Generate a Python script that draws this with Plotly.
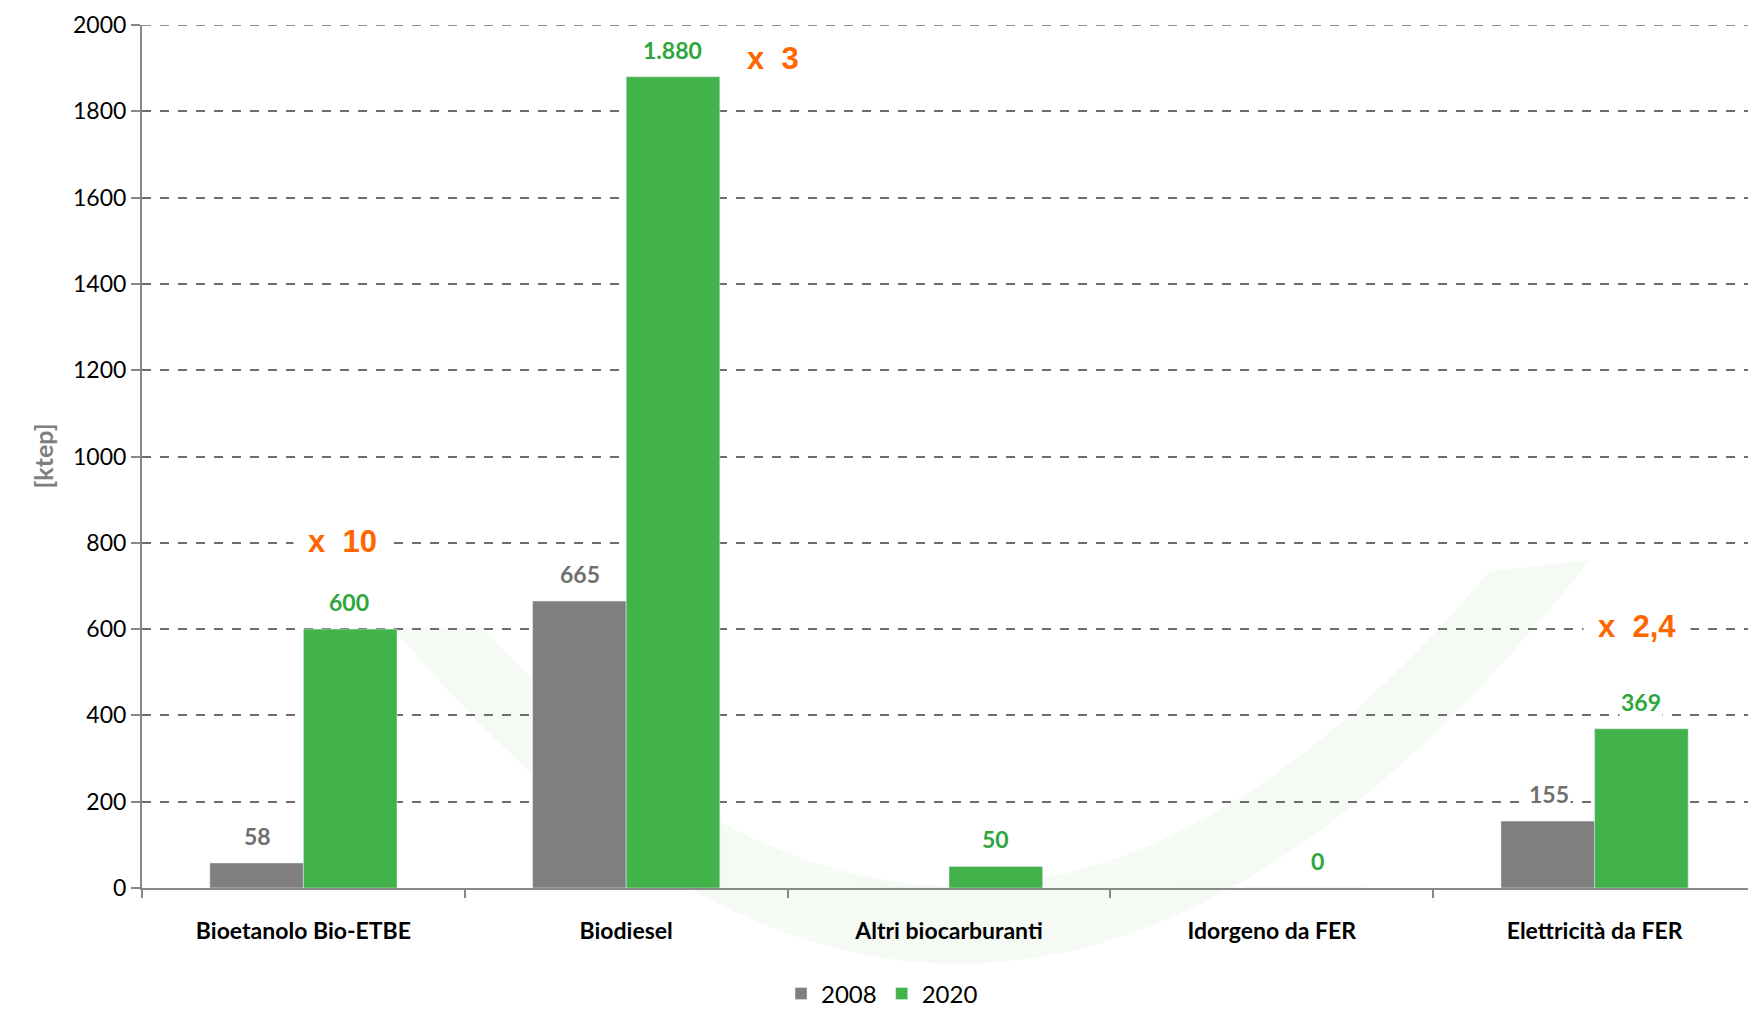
import plotly.graph_objects as go

categories = ["Bioetanolo Bio-ETBE", "Biodiesel", "Altri biocarburanti", "Idorgeno da FER", "Elettricità da FER"]
values_2008 = [58, 665, 0, 0, 155]
values_2020 = [600, 1880, 50, 0, 369]
labels_2008 = ["58", "665", "", "", "155"]
labels_2020 = ["600", "1.880", "50", "0", "369"]
growth_text = ["x  10", "x  3", "x  2,4"]
growth_cat = ["Bioetanolo Bio-ETBE", "Biodiesel", "Elettricità da FER"]
growth_y = [804, 1923, 605]
growth_shift = [39, 147, 42]
growth_pad = [14, 4, 14]

GREY = "#7f7f7f"
GREEN = "#41b34a"
FONT = "Lato, 'Open Sans', sans-serif"

fig = go.Figure()
fig.add_trace(go.Bar(x=categories, y=values_2008, name="2008", marker_color=GREY))
fig.add_trace(go.Bar(x=categories, y=values_2020, name="2020", marker_color=GREEN))

# data labels with white box, offset to each bar of the group
for cat, v, t in zip(categories, values_2008, labels_2008):
    if t:
        fig.add_annotation(x=cat, y=v, text=f"<b>{t}</b>", showarrow=False, xshift=-46, yshift=27,
                           bgcolor="white", font=dict(family=FONT, size=23, color="#6f6f6f"))
for cat, v, t in zip(categories, values_2020, labels_2020):
    fig.add_annotation(x=cat, y=v, text=f"<b>{t}</b>", showarrow=False, xshift=46, yshift=27,
                       bgcolor="white", font=dict(family=FONT, size=23, color="#2ea63b"))

for cat, y, t, s, p in zip(growth_cat, growth_y, growth_text, growth_shift, growth_pad):
    fig.add_annotation(x=cat, y=y, text=f"<b>{t}</b>", showarrow=False, xshift=s,
                       bgcolor="white", borderpad=p,
                       font=dict(family="Liberation Sans, Arial", size=31, color="#ff6600"))

fig.add_annotation(xref="paper", yref="paper", x=(25 - 142) / 1614, y=0.5, text="<b>[ktep]</b>",
                   textangle=-90, showarrow=False, font=dict(family=FONT, size=25, color=GREY))

# faint watermark swoosh behind the bars
fig.add_shape(type="path", xref="paper", yref="paper", layer="below", line_width=0,
              fillcolor="rgba(215,232,208,0.22)",
              path="M 0.155,0.302 Q 0.52,-0.515 0.897,0.38 L 0.835,0.367 Q 0.52,-0.329 0.211,0.302 Z")
# top gridline at 2000 (plotly drops the one on the plot edge)
fig.add_shape(type="line", xref="paper", yref="y", x0=0, x1=1, y0=2000, y1=2000,
              line=dict(color="#6e6e6e", width=1.5, dash="dash"))

# page body has an 8px margin, so the figure is 8px smaller and margins 8px tighter
fig.update_layout(
    width=1748, height=1003,
    margin=dict(l=134, r=0, t=17, b=123),
    paper_bgcolor="white", plot_bgcolor="white",
    barmode="group", bargap=0.42, bargroupgap=0,
    font=dict(family=FONT, size=23, color="black"),
    showlegend=True,
    legend=dict(orientation="h", xref="container", x=0.5, xanchor="center",
                yref="container", y=0.017, yanchor="middle", font=dict(size=24),
                itemwidth=30, tracegroupgap=0),
)
fig.update_yaxes(range=[0, 2000], dtick=200, showgrid=True, gridcolor="#6e6e6e", griddash="dash",
                 gridwidth=1.5, showline=True, linecolor="#888888", linewidth=2,
                 ticks="outside", ticklen=9, tickcolor="#888888", tickwidth=2,
                 tickfont=dict(size=23), zeroline=False)
fig.update_xaxes(showline=True, linecolor="#888888", linewidth=2, ticks="outside", tickson="boundaries",
                 ticklen=8, tickcolor="#888888", tickwidth=2, tickfont=dict(size=23),
                 tickprefix="<b>", ticksuffix="</b>", ticklabelstandoff=21)

fig.write_html("out.html")
